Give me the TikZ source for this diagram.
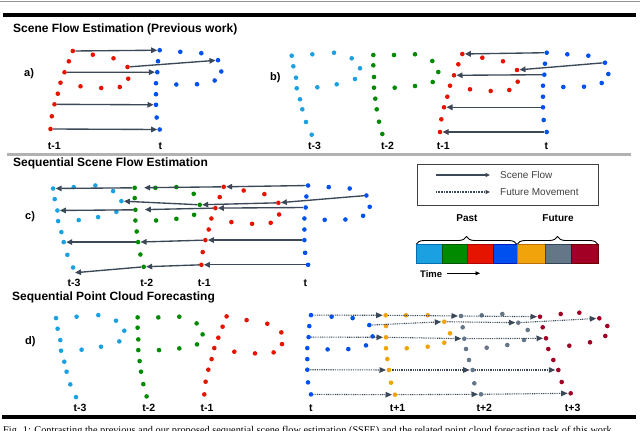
\documentclass[tikz,border=0pt]{standalone}
\usepackage{fontspec}
\setmainfont{Liberation Sans}
\newfontfamily\capfont{Liberation Serif}
\usetikzlibrary{arrows.meta,decorations.pathreplacing}
\definecolor{cLB}{HTML}{1BA1E2}
\definecolor{cG}{HTML}{008A00}
\definecolor{cR}{HTML}{E51400}
\definecolor{cB}{HTML}{0050EF}
\definecolor{cO}{HTML}{F0A30A}
\definecolor{cY}{HTML}{647687}
\definecolor{cD}{HTML}{A20025}
\definecolor{dLB}{HTML}{006EAF}
\definecolor{dG}{HTML}{005700}
\definecolor{dR}{HTML}{B20000}
\definecolor{dB}{HTML}{001DBC}
\definecolor{dO}{HTML}{BD7000}
\definecolor{dY}{HTML}{314354}
\definecolor{dD}{HTML}{6F0000}
\definecolor{flowc}{HTML}{3A4858}
\definecolor{legtxt}{HTML}{404040}
\def\LBlist{291.7/55.7, 312.3/54.3, 334/52.7, 351.7/58.3, 293.3/66.3, 360/68.3, 296/77.7, 355/79, 296.7/88.3, 317.3/87.3, 336.7/84.3, 300/99.3, 302.3/109.3, 306/122, 311.7/134.7}
\def\Glist{373.3/55, 394/55, 415/54.3, 432.3/61, 373.3/65.3, 438.3/72, 374/77, 432.7/82, 374/87.7, 394.7/87.7, 415/86, 375.3/98.7, 376.7/109.3, 379/121.7, 382.3/134}
\def\Rlist{462.3/54, 482.3/57.7, 503/61.3, 458.3/64.3, 517/70, 454/75.3, 517.7/81.7, 450/85.7, 470/89.3, 490.7/91, 509.3/90, 447.3/96.7, 444/107.3, 441.3/119.3, 440/132}
\def\Blist{546.7/52.7, 567.3/54.3, 588.3/55.7, 545/63.7, 605/62.7, 544.3/74.7, 608.3/74, 543/85.7, 563.3/87, 584/86.7, 601.7/83, 543/96.7, 543/107.3, 543.7/120, 546.7/132}
\def\Olist{385.7/315.3, 406/315.3, 427.7/315.3, 386/326, 444.3/321.7, 386/337.3, 450/333.3, 386/348.3, 406.7/348.3, 427.7/346.7, 444.3/342.7, 387.3/359, 389/370, 391/382.7, 395/394.7}
\def\Ylist{461/316, 481.7/315.3, 502.3/314, 462.7/327.3, 518.3/322.7, 464.3/338.7, 527.7/330, 466/349, 486.7/347.7, 507.3/345, 524/340, 469/360, 472.7/370, 474.3/383.3, 481/394.3}
\def\Dlist{540/316.7, 560.7/314, 579.3/312.7, 542.7/327.3, 599.3/318.3, 546/338.3, 607.3/326, 548.3/349, 569.3/345.7, 590/342.3, 605.3/336, 553.3/360, 558.3/370, 561.7/382, 570.7/393.3}
\newcommand\pcloud[4]{%
  \begin{scope}[shift={#3}]
    \foreach \xx/\yy [count=\ii] in #4 {\node[dot,fill=#2] (#1\ii) at (\xx,\yy) {};}
  \end{scope}}
\begin{document}
\begin{tikzpicture}[x=1pt,y=-1pt,
  dot/.style={circle,inner sep=0pt,minimum size=4.6pt,draw=none},
  flow/.style={draw=flowc,line width=1.35pt,-{Triangle[length=6pt,width=5.5pt]}},
  fut/.style={draw=flowc,line width=1.1pt,dash pattern=on 0.9pt off 0.9pt,-{Triangle[length=6.5pt,width=5.5pt]},shorten >=0.5pt},
  ttl/.style={anchor=base west,inner sep=0pt,font=\fontsize{12}{14}\selectfont\bfseries},
  lab/.style={anchor=base west,inner sep=0pt,font=\fontsize{11}{13}\selectfont\bfseries},
  tm/.style={anchor=base,inner sep=0pt,font=\fontsize{10.5}{12}\selectfont\bfseries},
  legt/.style={anchor=base west,inner sep=0pt,text=legtxt,font=\fontsize{10}{12}\selectfont},
  hdr/.style={anchor=base,inner sep=0pt,font=\fontsize{10}{12}\selectfont\bfseries},
  cell/.style={line width=0.9pt}]
\useasboundingbox (0,0) rectangle (640,431);
% rules
\draw[gray!85,line width=0.8pt] (0,1.5) -- (640,1.5);
\draw[black,line width=4pt] (3,15.3) -- (636,15.3);
\draw[gray!60,line width=2.8pt] (7,154.5) -- (631,154.5);
\draw[black,line width=4pt] (2,417.3) -- (636,417.3);
% titles
\node[ttl] (t1) at (13,32.5) {Scene Flow Estimation (Previous work)};
\node[ttl] (t2) at (13,166.5) {Sequential Scene Flow Estimation};
\node[ttl] (t3) at (12,300) {Sequential Point Cloud Forecasting};
\node[lab] (la) at (24,76.5) {a)};
\node[lab] (lb) at (270,80) {b)};
\node[lab] (lc) at (25,219.5) {c)};
\node[lab] (ld) at (25,344) {d)};
% ---------- a ----------
\pcloud{aR}{cR}{(-389.5,-3)}{\Rlist}
\pcloud{aB}{cB}{(-387,-2.5)}{\Blist}
\foreach \k in {1,5,6,13,15} {\draw[flow] (aR\k) -- (aB\k);}
\node[tm] (ta1) at (54.3,149) {t-1};
\node[tm] (ta0) at (160.3,149) {t};
% ---------- b ----------
\pcloud{bLB}{cLB}{(0,0)}{\LBlist}
\pcloud{bG}{cG}{(0,0)}{\Glist}
\pcloud{bR}{cR}{(0,0)}{\Rlist}
\pcloud{bB}{cB}{(0,0)}{\Blist}
\foreach \k in {1,5,6,13,15} {\draw[flow] (bB\k) -- (bR\k);}
\node[tm] (tb3) at (314.5,149) {t-3};
\node[tm] (tb2) at (387.5,149) {t-2};
\node[tm] (tb1) at (443.3,149) {t-1};
\node[tm] (tb0) at (546.3,149) {t};
% ---------- c ----------
\pcloud{cLB}{cLB}{(-238.6,132.8)}{\LBlist}
\pcloud{cG}{cG}{(-238.6,132.8)}{\Glist}
\pcloud{cR}{cR}{(-238.6,132.8)}{\Rlist}
\pcloud{cB}{cB}{(-238.6,132.8)}{\Blist}
\draw[flow] (cB1) -- (cR1);
\draw[flow,shorten >=7pt] (cR1) -- (cG1);
\draw[flow] (cG1) -- (cLB1);
\draw[flow] (cB5) -- (cR5);
\draw[flow] (cR5) -- (cG6);
\draw[flow] (cG6) -- (cLB6);
\draw[flow] (cB6) -- (cR6);
\draw[flow,shorten >=7pt] (cR6) -- (cG7);
\draw[flow] (cG7) -- (cLB7);
\draw[flow] (cB13) -- (cR13);
\draw[flow] (cR13) -- (cG13);
\draw[flow] (cG13) -- (cLB13);
\draw[flow] (cB15) -- (cR15);
\draw[flow] (cR15) -- (cG15);
\coordinate (cend) at (75,272.7);
\draw[flow] (cG15) -- (cend);
\node[tm] (tc3) at (74,286) {t-3};
\node[tm] (tc2) at (146.8,286) {t-2};
\node[tm] (tc1) at (204.2,286) {t-1};
\node[tm] (tc0) at (305.3,286) {t};
% ---------- d ----------
\pcloud{dLB}{cLB}{(-235.7,262.4)}{\LBlist}
\pcloud{dG}{cG}{(-235.7,262.4)}{\Glist}
\pcloud{dR}{cR}{(-235.7,262.4)}{\Rlist}
\pcloud{dB}{cB}{(-235.7,262.4)}{\Blist}
\pcloud{dO}{cO}{(0,0)}{\Olist}
\pcloud{dY}{cY}{(0,0)}{\Ylist}
\pcloud{dD}{cD}{(0,0)}{\Dlist}
\foreach \k in {1,5,6,13,15} {
  \draw[fut] (dB\k) -- (dO\k);
  \draw[fut] (dO\k) -- (dY\k);
  \draw[fut] (dY\k) -- (dD\k);}
\node[tm] (td3) at (80,411) {t-3};
\node[tm] (td2) at (148.8,411) {t-2};
\node[tm] (td1) at (207,411) {t-1};
\node[tm] (td0) at (310.8,411) {t};
\node[tm] (tf1) at (397.5,411) {t+1};
\node[tm] (tf2) at (484.3,411) {t+2};
\node[tm] (tf3) at (572.7,411) {t+3};
% ---------- legend ----------
\node[draw=legtxt,line width=0.8pt,minimum width=181pt,minimum height=41pt,inner sep=0pt] (leg) at (507.5,184.5) {};
\coordinate (l1a) at (436,175); \coordinate (l1b) at (490,175);
\coordinate (l2a) at (436,192); \coordinate (l2b) at (490,192);
\draw[draw=flowc,line width=1.1pt,-{Triangle[length=4.5pt,width=4pt]}] (l1a) -- (l1b);
\draw[draw=flowc,line width=1.1pt,dash pattern=on 0.8pt off 0.8pt,-{Triangle[length=4.5pt,width=4pt]}] (l2a) -- (l2b);
\node[legt] (lt1) at (500,178.5) {Scene Flow};
\node[legt] (lt2) at (500,195.5) {Future Movement};
\node[hdr] (past) at (467,221) {Past};
\node[hdr] (futr) at (558,221) {Future};
\coordinate (br0) at (416,244.5); \coordinate (br1) at (517,244.5); \coordinate (br2) at (598,244.5);
\draw[line width=0.9pt,decorate,decoration={brace,amplitude=8pt}] (br0) -- (br1);
\draw[line width=0.9pt,decorate,decoration={brace,amplitude=8pt}] (br1) -- (br2);
\path[cell,fill=cLB,draw=dLB] (416,244.5) rectangle (442,263);
\path[cell,fill=cG,draw=dG] (442,244.5) rectangle (467,263);
\path[cell,fill=cR,draw=dR] (467,244.5) rectangle (493,263);
\path[cell,fill=cB,draw=dB] (493,244.5) rectangle (517,263);
\path[cell,fill=cO,draw=dO] (517,244.5) rectangle (545,263);
\path[cell,fill=cY,draw=dY] (545,244.5) rectangle (571,263);
\path[cell,fill=cD,draw=dD] (571,244.5) rectangle (598,263);
\node[anchor=base west,inner sep=0pt,font=\fontsize{9.5}{11}\selectfont\bfseries] (time) at (420,277) {Time};
\coordinate (ta) at (447,273.3); \coordinate (tb) at (480,273.3);
\draw[line width=0.9pt,-{Triangle[length=4.5pt,width=4pt]}] (ta) -- (tb);
% ---------- caption (cut off at the lower edge) ----------
\begin{scope}
\clip (0,0) rectangle (640,431);
\node[anchor=base west,inner sep=0pt,font=\capfont\fontsize{10.3}{12}\selectfont] (cap) at (3,433) {Fig. 1: Contrasting the previous and our proposed sequential scene flow estimation (SSFE) and the related point cloud forecasting task of this work};
\end{scope}
\end{tikzpicture}
\end{document}
